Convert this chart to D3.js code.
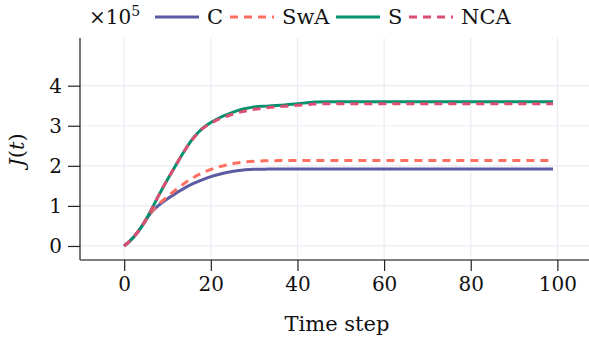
<!DOCTYPE html>
<html><head><meta charset="utf-8">
<script src="https://cdn.jsdelivr.net/npm/d3@7"></script>
<style>body{margin:0;background:#fff}svg{display:block}text{font-family:"DejaVu Serif",serif;fill:#111}</style>
</head><body><svg id="c" width="589" height="339"></svg>
<script>
const times = [0,2,4,6,8,10,12,14,16,18,20,22,24,26,28,30,33,36,40,44,48,55,65,75,85,99];
const valC   = [0,0.2,0.48,0.8,1.02,1.18,1.32,1.45,1.56,1.65,1.73,1.79,1.84,1.875,1.9,1.912,1.918,1.92,1.92,1.92,1.92,1.92,1.92,1.92,1.92,1.92];
const valSwA = [0,0.2,0.48,0.81,1.05,1.23,1.41,1.57,1.71,1.82,1.91,1.98,2.03,2.07,2.1,2.117,2.126,2.13,2.13,2.13,2.13,2.13,2.13,2.13,2.13,2.13];
const valS   = [0,0.2,0.48,0.85,1.27,1.66,2.03,2.39,2.7,2.93,3.08,3.2,3.29,3.37,3.43,3.47,3.49,3.51,3.55,3.59,3.6,3.6,3.6,3.6,3.6,3.6];
const valNCA = [0,0.2,0.48,0.85,1.27,1.66,2.03,2.39,2.69,2.92,3.06,3.17,3.25,3.32,3.37,3.41,3.45,3.48,3.51,3.54,3.55,3.55,3.55,3.55,3.55,3.55];
const seriesNames = ["C","SwA","S","NCA"];
const seriesColors = ["#5b5ba3","#ff6f61","#00916e","#dc4f72"];
const seriesDash = [null,"8,6",null,"8,6"];
const xTicks = [0,20,40,60,80,100];
const yTicks = [0,1,2,3,4];

const svg = d3.select("#c");
const x = d3.scaleLinear().domain([-10.2,107.3]).range([80,589]);
const y = d3.scaleLinear().domain([-0.35,5.19]).range([260,38]);

// grid
svg.append("g").selectAll("line").data(xTicks).join("line")
  .attr("x1",d=>x(d)).attr("x2",d=>x(d)).attr("y1",y.range()[1]).attr("y2",y.range()[0])
  .attr("stroke","#ebebf3").attr("stroke-width",1.2);
svg.append("g").selectAll("line").data(yTicks).join("line")
  .attr("x1",x.range()[0]).attr("x2",x.range()[1]).attr("y1",d=>y(d)).attr("y2",d=>y(d))
  .attr("stroke","#ebebf3").attr("stroke-width",1.2);

// lines
const all = [valC,valSwA,valS,valNCA];
const line = d3.line().x((d,i)=>x(times[i])).y(d=>y(d)).curve(d3.curveMonotoneX);
all.forEach((vals,k)=>{
  svg.append("path").datum(vals).attr("d",line).attr("fill","none")
    .attr("stroke",seriesColors[k]).attr("stroke-width",3)
    .attr("stroke-dasharray",seriesDash[k]);
});

// axes
const xa = svg.append("g").attr("transform","translate(0,260)")
  .call(d3.axisBottom(x).tickValues(xTicks).tickSize(11).tickPadding(6).tickFormat(d3.format("d")));
const ya = svg.append("g").attr("transform","translate(80,0)")
  .call(d3.axisLeft(y).tickValues(yTicks).tickSize(12).tickPadding(6).tickFormat(d3.format("d")));
[xa,ya].forEach(a=>{
  a.select(".domain").attr("stroke","#555").attr("stroke-width",1.6);
  a.selectAll(".tick line").attr("stroke","#222").attr("stroke-width",1.2);
  a.selectAll(".tick text").style("font-family","DejaVu Serif").style("font-size","20px").attr("fill","#111");
});
ya.select(".domain").attr("d","M0,260V38");
xa.select(".domain").attr("d","M80,0H589");

// axis titles
svg.append("text").attr("x",337).attr("y",331).attr("text-anchor","middle").style("font-size","21px").text("Time step");
const yl = svg.append("text").attr("transform","translate(24,150) rotate(-90)").attr("text-anchor","middle").style("font-size","21px");
yl.append("tspan").attr("font-style","italic").text("J");
yl.append("tspan").text("(");
yl.append("tspan").attr("font-style","italic").text("t");
yl.append("tspan").text(")");

// exponent
const ex = svg.append("text").attr("x",89).attr("y",24).style("font-size","20px");
ex.append("tspan").text("×10");
ex.append("tspan").attr("dy",-8).style("font-size","14px").text("5");

// legend
const legX = [155,230,336,409];
seriesNames.forEach((n,k)=>{
  svg.append("line").attr("x1",legX[k]).attr("x2",legX[k]+44).attr("y1",17).attr("y2",17)
    .attr("stroke",seriesColors[k]).attr("stroke-width",3).attr("stroke-dasharray",seriesDash[k]);
  svg.append("text").attr("x",legX[k]+52).attr("y",24).style("font-size","21px").text(n);
});
</script></body></html>
